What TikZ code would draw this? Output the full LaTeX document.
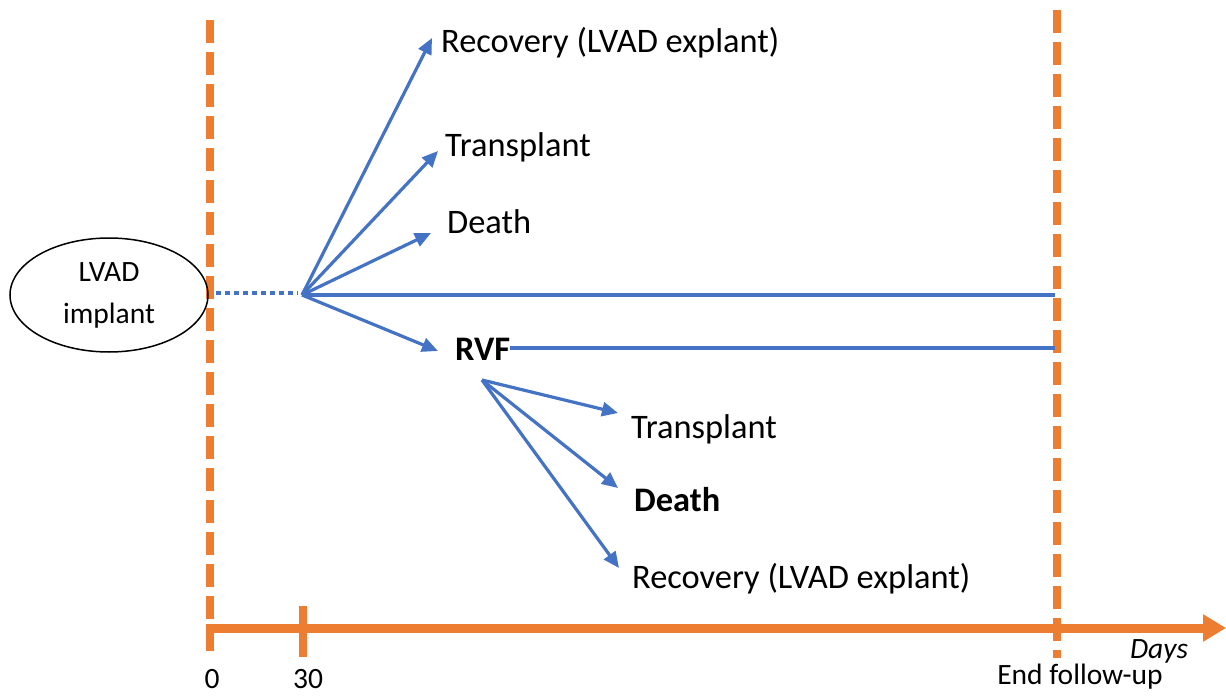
\documentclass[tikz,border=0pt]{standalone}
\usepackage{fontspec}
\setmainfont{Carlito}
\usetikzlibrary{arrows.meta,shapes.geometric}
\definecolor{orng}{HTML}{ED7D31}
\definecolor{blu}{HTML}{4472C4}
\begin{document}
\begin{tikzpicture}[x=1pt,y=-1pt,
  vdash/.style={orng,line width=8pt,dash pattern=on 23pt off 9pt},
  axis/.style={orng,line width=9pt},
  conn/.style={blu,line width=3.2pt},
  arr/.style={conn,-{Triangle[length=16pt,width=14pt]}},
  lbl/.style={font=\fontsize{34.4}{40}\selectfont,anchor=base west,inner sep=0pt},
  small/.style={font=\fontsize{29.5}{34}\selectfont,inner sep=0pt}]
\useasboundingbox (0,0) rectangle (1226,698);
% timeline verticals
\coordinate (v0t) at (210,20);
\coordinate (v0b) at (210,655);
\coordinate (v1t) at (1057,10);
\coordinate (v1b) at (1057,658);
\draw[vdash] (v0t) -- (v0b);
\draw[vdash] (v1t) -- (v1b);
% axis
\coordinate (ax0) at (206,628);
\coordinate (ax1) at (1226,628);
\draw[axis,-{Triangle[length=23pt,width=26pt]}] (ax0) -- (ax1);
\coordinate (t30a) at (303,606);
\coordinate (t30b) at (303,657);
\draw[axis,line width=8pt] (t30a) -- (t30b);
\node[small,anchor=base] (l0) at (212,688) {0};
\node[small,anchor=base] (l30) at (308,688) {30};
\node[small,anchor=base] (lend) at (1080,684) {End follow-up};
\node[small,anchor=base,font=\fontsize{29.5}{34}\selectfont\itshape] (ldays) at (1159,658) {Days};
% ellipse
\node[draw,ellipse,line width=1.5pt,minimum width=198pt,minimum height=114pt,inner sep=0pt,
  align=center,font=\fontsize{29.5}{42}\selectfont] (lvad) at (109,295) {LVAD\\implant};
% hub
\coordinate (hub) at (302,295);
\coordinate (dotstart) at (216,293);
\coordinate (dotend) at (298,293);
\draw[conn,line width=4pt,dash pattern=on 5pt off 4pt] (dotstart) -- (dotend);
\coordinate (endA) at (1055,295);
\draw[conn] (hub) -- (endA);
% first branches
\node[lbl] (rec1) at (441,53) {Recovery (LVAD explant)};
\node[lbl] (tr1) at (445,157) {Transplant};
\node[lbl] (de1) at (447,233) {Death};
\node[lbl,font=\fontsize{34.4}{40}\selectfont\bfseries] (rvf) at (455,360) {RVF};
\coordinate (tipRec1) at (432,38);
\coordinate (tipTr1) at (438,151);
\coordinate (tipDe1) at (431,233);
\coordinate (tipRvf) at (438,351);
\draw[arr] (hub) -- (tipRec1);
\draw[arr] (hub) -- (tipTr1);
\draw[arr] (hub) -- (tipDe1);
\draw[arr] (hub) -- (tipRvf);
\coordinate (endB) at (1055,348);
\draw[conn] (rvf.east |- endB) -- (endB);
% RVF branches
\coordinate (rhub) at (482,380);
\node[lbl] (tr2) at (631,438) {Transplant};
\node[lbl,font=\fontsize{34.4}{40}\selectfont\bfseries] (de2) at (634,511) {Death};
\node[lbl] (rec2) at (632,588) {Recovery (LVAD explant)};
\coordinate (tipTr2) at (618,413);
\coordinate (tipDe2) at (618,488);
\coordinate (tipRec2) at (619,568);
\draw[arr] (rhub) -- (tipTr2);
\draw[arr] (rhub) -- (tipDe2);
\draw[arr] (rhub) -- (tipRec2);
\end{tikzpicture}
\end{document}
